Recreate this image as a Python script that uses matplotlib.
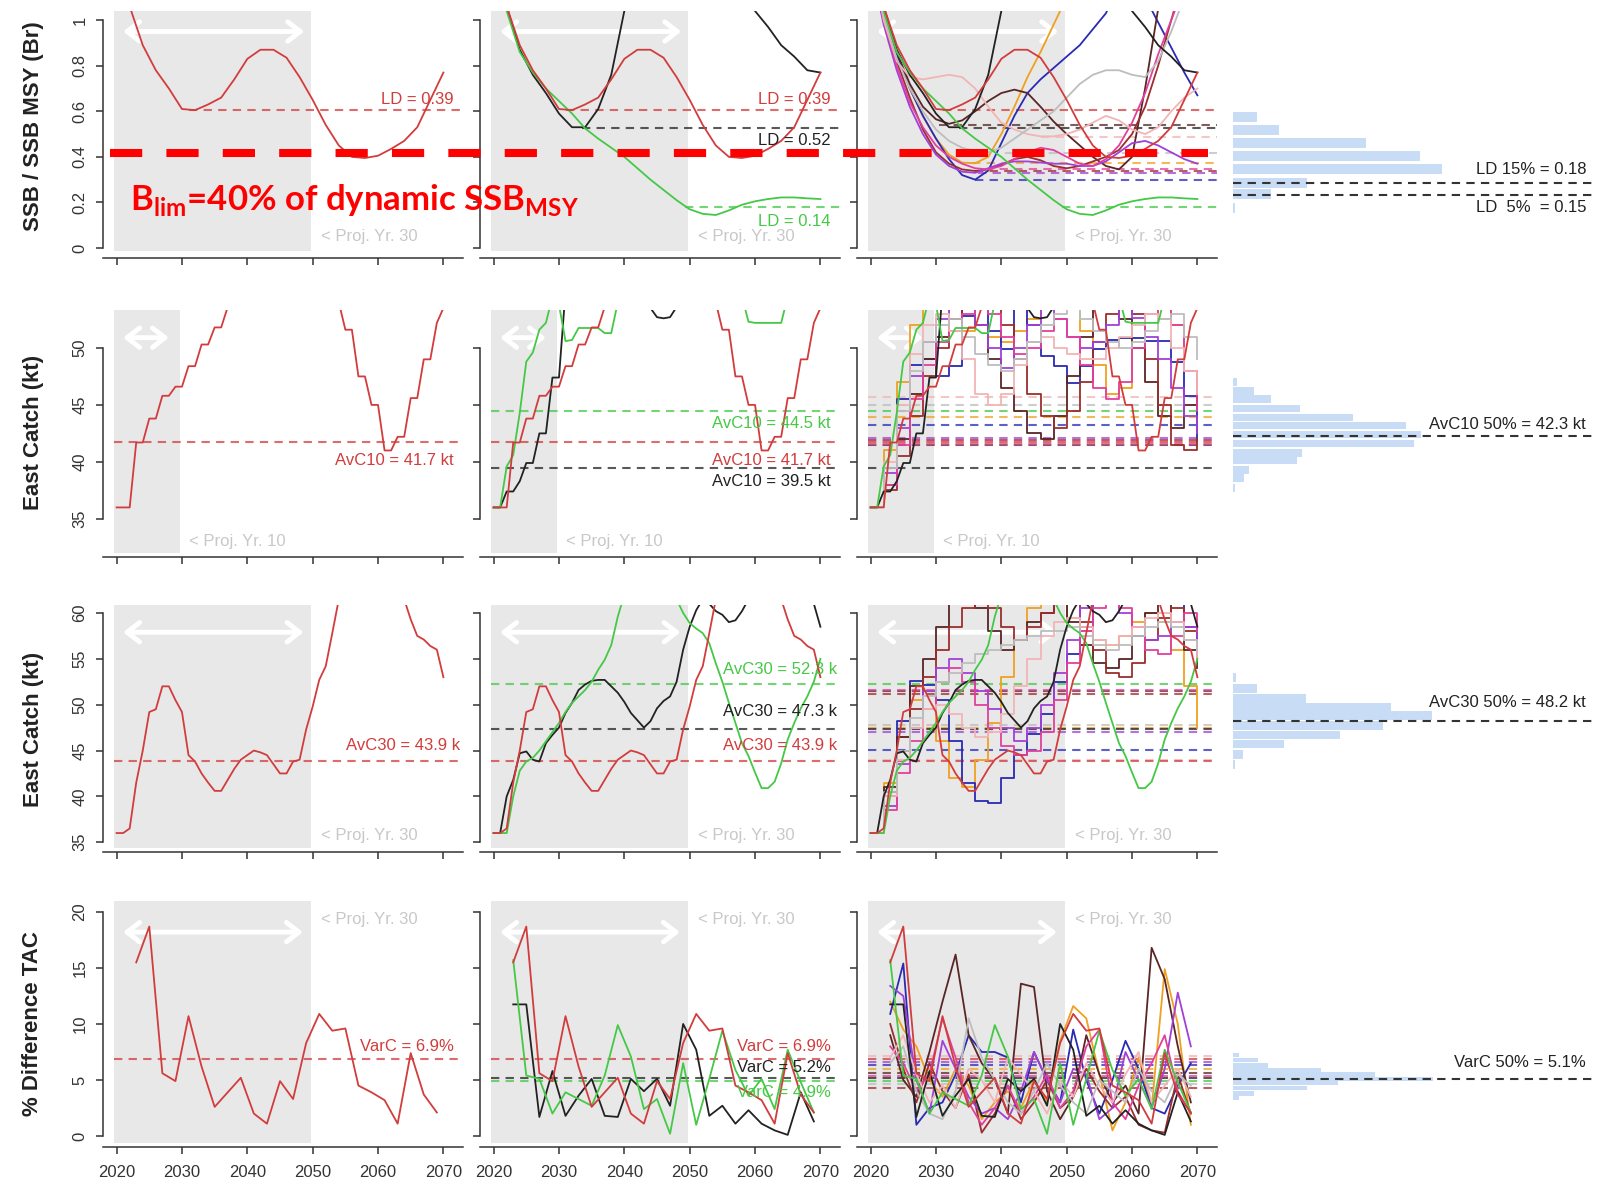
import numpy as np
import matplotlib.pyplot as plt
from matplotlib import transforms
from matplotlib.lines import Line2D

plt.rcParams['font.family'] = ['Liberation Sans', 'DejaVu Sans']
plt.rcParams['mathtext.fontset'] = 'custom'
plt.rcParams['mathtext.rm'] = 'Lato'
plt.rcParams['mathtext.bf'] = 'Lato:bold'

# ---------------- data ----------------
yr_ssb = np.arange(2020, 2071, 2)      # biennial
yr_c = np.arange(2020, 2071)           # yearly
yr_var = np.arange(2023, 2070, 2)      # TAC change years

# MPs: red, black, green (shown in the first two columns), then the rest
mp_colors = ['#d23c3c', '#222222', '#45c845', '#f0a020', '#2a2ab4', '#5a2525',
             '#9b2d2d', '#a040d8', '#e0409c', '#f2b4b4', '#bdbdbd']

# SSB / SSBMSY
ssb_red = [1.25, 1.06, 0.89, 0.78, 0.70, 0.61, 0.605, 0.63, 0.66, 0.74, 0.83, 0.87, 0.87,
           0.835, 0.75, 0.65, 0.54, 0.45, 0.40, 0.395, 0.405, 0.435, 0.47, 0.53, 0.65, 0.77]
ssb_black = [1.35, 1.06, 0.87, 0.76, 0.68, 0.59, 0.53, 0.53, 0.61, 0.76, 1.04, 1.3, 1.5,
             1.6, 1.6, 1.55, 1.45, 1.35, 1.25, 1.15, 1.04, 0.97, 0.89, 0.84, 0.78, 0.77]
ssb_green = [1.3, 1.04, 0.86, 0.77, 0.70, 0.645, 0.59, 0.525, 0.48, 0.44, 0.40, 0.35, 0.30,
             0.255, 0.21, 0.17, 0.15, 0.145, 0.165, 0.19, 0.205, 0.215, 0.222, 0.222, 0.218, 0.215]
ssb_orange = [1.3, 1.05, 0.85, 0.70, 0.58, 0.48, 0.41, 0.375, 0.372, 0.40, 0.50, 0.62, 0.75,
              0.86, 0.98, 1.1, 1.25, 1.35, 1.45, 1.5, 1.5, 1.5, 1.5, 1.5, 1.5, 1.5]
ssb_blue = [1.25, 1.0, 0.85, 0.70, 0.58, 0.48, 0.39, 0.32, 0.30, 0.34, 0.46, 0.58, 0.68,
            0.74, 0.79, 0.84, 0.89, 0.96, 1.03, 1.15, 1.2, 1.1, 0.99, 0.88, 0.77, 0.67]
ssb_darkbrown = [1.3, 1.05, 0.86, 0.72, 0.62, 0.565, 0.545, 0.56, 0.60, 0.645, 0.68, 0.695, 0.68,
                 0.62, 0.555, 0.50, 0.45, 0.40, 0.36, 0.345, 0.40, 0.70, 1.05, 1.3, 1.5, 1.6]
ssb_maroon = [1.3, 1.02, 0.82, 0.66, 0.52, 0.42, 0.37, 0.345, 0.338, 0.345, 0.365, 0.39, 0.40,
              0.385, 0.36, 0.35, 0.36, 0.38, 0.40, 0.43, 0.50, 0.62, 0.80, 1.0, 1.2, 1.4]
ssb_purple = [1.25, 0.98, 0.78, 0.62, 0.50, 0.41, 0.36, 0.335, 0.33, 0.35, 0.37, 0.38, 0.38,
              0.375, 0.37, 0.37, 0.36, 0.36, 0.38, 0.42, 0.46, 0.47, 0.45, 0.42, 0.39, 0.37]
ssb_magenta = [1.28, 1.0, 0.80, 0.64, 0.53, 0.45, 0.40, 0.37, 0.35, 0.345, 0.36, 0.39, 0.42,
               0.44, 0.43, 0.40, 0.37, 0.36, 0.39, 0.45, 0.55, 0.68, 0.85, 1.0, 1.15, 1.3]
ssb_lightpink = [1.3, 1.0, 0.82, 0.75, 0.74, 0.75, 0.76, 0.75, 0.70, 0.62, 0.55, 0.52, 0.50,
                 0.49, 0.49, 0.50, 0.52, 0.55, 0.58, 0.56, 0.52, 0.50, 0.53, 0.60, 0.66, 0.70]
ssb_lightgray = [1.3, 1.02, 0.83, 0.70, 0.60, 0.52, 0.47, 0.44, 0.425, 0.42, 0.44, 0.48, 0.52,
                 0.56, 0.60, 0.66, 0.72, 0.76, 0.78, 0.78, 0.76, 0.75, 0.82, 0.95, 1.1, 1.25]

# lowest depletion in window (dashed) and year it occurs
ld_val = [0.605, 0.525, 0.178, 0.372, 0.298, 0.542, 0.338, 0.33, 0.345, 0.487, 0.418]
ld_start = [2031, 2033.5, 2049.3, 2035.5, 2036, 2030.5, 2036, 2036.5, 2037.5, 2046, 2040.5]
ld_label = [0.39, 0.52, 0.14]

# East catch, tuned to AvC10 (red/black/green yearly, others biennial)
c10_red = [36, 36, 36, 41.7, 41.7, 43.8, 43.8, 45.8, 45.8, 46.6,
           46.6, 48.4, 48.4, 50.3, 50.3, 51.8, 51.8, 53.6, 53.6, 55,
           55, 56.5, 56.5, 57.5, 57.5, 58, 58, 57.5, 57.5, 56.5,
           56.5, 55.5, 55.5, 54, 54, 51.6, 51.6, 47.5, 47.5, 45,
           45, 41, 41, 42.2, 42.2, 45.6, 45.6, 49, 49, 52.2, 53.5]
c10_black = [36, 36, 37.4, 37.4, 38.3, 39.9, 39.9, 42.5, 42.5, 47.4,
             47.4, 55, 57, 58, 58.5, 58.5, 58, 57, 56, 55,
             54.5, 54.2, 54, 53.8, 53.5, 52.7, 52.6, 52.7, 53.6, 55,
             56, 57, 57.5, 58, 58, 58, 58, 58, 58, 58,
             58, 58, 58, 58, 58, 58, 58, 58, 58, 58, 58]
c10_green = [36, 36, 39.6, 40.6, 44.3, 48.8, 49.6, 51.6, 52.2, 54.5,
             53.8, 50.6, 50.7, 51.75, 51.75, 51.75, 51.75, 51.3, 51.3, 54,
             55.5, 56.5, 57, 57.5, 57.5, 57.5, 57.5, 57, 57, 56.5,
             56, 55.5, 55.5, 55, 55, 55, 54.5, 54.5, 54.5, 52.3,
             52.2, 52.2, 52.2, 52.2, 52.2, 54.5, 55.5, 56, 56.5, 57, 57]
c10_orange = [36, 41, 47, 52, 54, 54, 52.5, 51.5, 52, 51, 50.5, 51.5, 52.5,
              53.5, 54, 54, 51.5, 48.5, 46, 46.5, 50, 53, 54, 52, 48, 45]
c10_blue = [36, 39.5, 45.5, 48.5, 49, 47.5, 48.4, 52.8, 54, 51.5, 49.9, 54, 52,
            49.3, 48.4, 46.9, 48.4, 49.9, 50.7, 50.9, 50.9, 50.6, 50.6, 48.8, 45.8, 41.8]
c10_darkbrown = [36, 38, 42, 46, 49, 51, 52.5, 53.5, 52, 49, 46.5, 44.5, 42.5,
                 42, 44, 47.5, 51, 53.5, 54, 52.5, 50, 47, 44, 43, 45, 47]
c10_maroon = [36, 37.5, 40.5, 44, 47.5, 50, 52.5, 54, 54.5, 54, 52, 49, 46,
              44, 43, 44.5, 47, 50.5, 53, 54, 53, 49, 45, 41.5, 41, 42]
c10_purple = [36, 39, 43, 47.5, 50.5, 52.5, 54, 54, 52, 50, 48.2, 50, 52,
              53.5, 52.5, 51, 50, 50.5, 52, 53.5, 52.6, 51, 49, 46.5, 44, 42.5]
c10_magenta = [36, 38, 41.5, 45.5, 48.5, 50.5, 51.5, 53, 54, 53, 51, 49.5, 50,
               51.5, 52.5, 51, 48.5, 46.5, 45.5, 47, 50, 53, 54, 52, 48, 44.5]
c10_lightpink = [36, 40, 45, 49.5, 52, 53, 51.5, 49, 46, 45, 46, 48.5, 50.5,
                 51, 50, 49.5, 49, 49, 50, 51, 52, 53, 52.5, 50, 48, 46]
c10_lightgray = [36, 39.5, 44.5, 48, 50.5, 52, 52.5, 51, 49.5, 48.5, 48, 49, 50.5,
                 52, 53, 53.5, 52.5, 51.5, 50.5, 50, 50.5, 51.5, 52.5, 53, 51, 49]
avc10 = [41.7, 39.5, 44.5, 43.9, 43.2, 41.5, 41.9, 42.1, 41.6, 45.7, 45.0]

# East catch, tuned to AvC30
c30_red = [36, 36, 36.5, 41.5, 45, 49.2, 49.5, 52, 52, 50.5,
           49.2, 44.5, 43.8, 42.5, 41.5, 40.6, 40.6, 41.8, 43, 44,
           44.5, 45, 44.8, 44.5, 43.5, 42.5, 42.5, 43.8, 44, 47.3,
           49.8, 52.7, 54.2, 57.8, 61.5, 63, 64, 64, 64, 64,
           64, 64, 63, 62, 61.5, 59.3, 57.5, 57.1, 56.4, 56, 53]
c30_black = [36, 36, 40, 41.8, 44.7, 44.9, 44, 43.8, 45.8, 46.7,
             47.5, 49.1, 50.2, 51.6, 52.2, 52.6, 52.7, 52.7, 52, 51.3,
             50.3, 49.1, 48.3, 47.5, 48.2, 49.6, 50.4, 50.9, 52.5, 56,
             58.5, 60.3, 61.5, 61, 60.2, 59.8, 59, 59.2, 60.2, 61.5,
             62, 62, 62, 62, 62, 62, 62, 62, 62, 61, 58.5]
c30_green = [36, 36, 36, 40, 42.8, 43.8, 44.2, 45, 46, 47,
             48, 49.2, 50.2, 50.9, 51.6, 52.5, 53.8, 54.9, 56.5, 59.6,
             62, 63, 63, 63, 63, 63, 63, 63, 61.5, 60,
             58.9, 58.3, 57.8, 56.7, 54.5, 52.5, 50.2, 48, 45.8, 44.4,
             42.6, 40.9, 40.9, 41.6, 43.6, 46.2, 48, 49.6, 50.9, 52.5, 55]
c30_orange = [36, 41.5, 46.5, 50.5, 51.5, 46, 42, 41, 44, 48, 53, 57, 60.5,
              62, 61, 59.5, 58, 57, 56.5, 57.5, 59, 60, 59, 56, 52, 47.5]
c30_blue = [36, 40.5, 48.2, 52.6, 52.1, 50.5, 46, 41.5, 39.5, 39.3, 42, 44.5, 46.8,
            49, 52.5, 55.5, 58.5, 61.5, 63, 63, 63, 63, 63, 61.5, 58.5, 55]
c30_darkbrown = [36, 41, 46.5, 52, 55, 58.5, 61, 61.5, 60.5, 58, 56, 57, 59,
                 60, 61, 59, 56.5, 54.5, 54, 55, 57.5, 60, 61, 59, 56, 54]
c30_maroon = [36, 40, 45, 49.5, 53, 56, 58.5, 60.5, 61.5, 60.5, 58.5, 57, 58.5,
              60, 61.5, 61, 59, 56, 53.5, 53, 54.5, 57, 59.5, 60.5, 58, 55]
c30_purple = [36, 39, 43.5, 47.5, 51.5, 54, 55, 53.5, 51.5, 49.5, 47.5, 46, 47.5,
              50, 53.5, 57, 60.5, 61.5, 61, 60, 58.5, 57, 57.5, 59, 58.5, 55.5]
c30_magenta = [36, 38.5, 42.5, 46, 49.5, 52.5, 54, 52.5, 50, 47.5, 45.5, 44.5, 45,
               47, 50.5, 54.5, 58, 60.5, 61.5, 60.5, 58.5, 56, 55.5, 57.5, 60, 58]
c30_lightpink = [36, 40, 44, 47.5, 49.5, 50, 49, 47.5, 46.5, 47, 49, 52, 55,
                 57.5, 59, 59.5, 58.5, 57, 56.5, 57.5, 58.5, 59.5, 60, 59, 57, 55]
c30_lightgray = [36, 40.5, 45, 48.5, 51, 52.5, 53.5, 54.5, 55.5, 56, 56.5, 57, 57.5,
                 58, 58, 58.5, 57.5, 56.5, 56, 56.5, 57.5, 58.5, 59, 58.5, 57, 56]
avc30 = [43.9, 47.3, 52.3, 47.5, 45.1, 51.5, 51.2, 47.0, 51.6, 44.0, 47.8]

# % difference in TAC
var_red = [15.5, 18.7, 5.6, 4.9, 10.7, 6.2, 2.6, 3.9, 5.2, 2.0, 1.1, 4.9,
           3.3, 8.3, 10.9, 9.4, 9.6, 4.5, 3.9, 3.2, 1.1, 7.4, 3.7, 2.1]
var_black = [11.75, 11.75, 1.7, 5.8, 1.8, 3.6, 5.1, 1.8, 1.7, 5.1, 4.0, 5.1,
             2.7, 10.0, 7.7, 1.8, 2.7, 1.1, 2.3, 1.1, 0.5, 0.1, 3.9, 1.3]
var_green = [15.7, 5.4, 5.1, 2.0, 3.9, 3.3, 2.7, 5.4, 9.9, 7.1, 2.4, 3.3,
             0.2, 6.5, 1.0, 5.1, 9.4, 5.9, 3.6, 5.1, 2.4, 7.7, 4.8, 2.1]
var_orange = [12.0, 9.5, 8.0, 5.0, 3.5, 6.0, 4.5, 1.5, 3.0, 4.0, 2.5, 5.0,
              3.0, 8.5, 11.6, 10.5, 5.5, 0.5, 3.0, 7.0, 2.5, 14.9, 10.0, 1.0]
var_blue = [10.9, 15.4, 1.0, 2.5, 3.0, 5.5, 9.0, 7.5, 7.5, 7.0, 3.0, 7.5,
            5.0, 3.0, 9.5, 5.0, 2.0, 5.0, 8.5, 6.0, 2.5, 2.0, 4.5, 6.5]
var_darkbrown = [9.0, 5.0, 3.5, 7.5, 12.0, 16.2, 9.0, 6.5, 5.0, 2.0, 13.6, 13.3,
                 4.0, 1.5, 3.5, 9.0, 5.5, 3.0, 4.5, 2.0, 16.8, 14.0, 8.0, 3.0]
var_maroon = [10.0, 6.0, 3.0, 6.5, 4.0, 2.5, 5.5, 0.3, 2.0, 4.5, 1.5, 3.0,
              5.0, 2.5, 3.5, 6.0, 4.0, 2.5, 3.5, 1.0, 0.5, 0.3, 5.5, 2.0]
var_purple = [13.4, 12.5, 5.0, 2.0, 8.5, 6.0, 3.5, 2.0, 2.5, 1.5, 4.0, 7.5,
              5.0, 3.0, 6.0, 5.5, 1.5, 2.5, 7.5, 5.0, 2.5, 6.0, 12.8, 8.0]
var_magenta = [8.0, 6.5, 4.0, 5.5, 10.5, 7.0, 3.0, 1.0, 2.5, 4.5, 2.0, 3.5,
               5.5, 2.5, 4.0, 8.0, 9.5, 3.0, 1.5, 4.5, 6.5, 9.0, 4.0, 2.0]
var_lightpink = [7.0, 9.0, 5.5, 3.0, 4.5, 2.5, 6.0, 5.0, 3.0, 7.0, 5.5, 4.0,
                 2.0, 5.0, 3.5, 6.5, 4.5, 3.0, 5.5, 7.5, 3.0, 4.5, 6.0, 3.5]
var_lightgray = [6.5, 8.0, 4.0, 2.0, 1.5, 4.0, 10.5, 7.0, 5.0, 3.0, 2.0, 4.0,
                 6.5, 4.5, 3.0, 2.0, 5.0, 4.0, 3.0, 6.0, 4.0, 3.0, 5.5, 4.5]
varc = [6.9, 5.2, 4.9, 6.0, 6.3, 5.6, 4.3, 6.6, 5.4, 7.1, 4.6]

# histograms across all MPs (right column)
h0_centers = [0.345, 0.3125, 0.28, 0.2475, 0.215, 0.18, 0.1525, 0.1175]
h0_counts = [24, 46, 133, 187, 209, 74, 38, 2]
h1_centers = [47.0, 46.2, 45.5, 44.7, 43.9, 43.2, 42.4, 41.6, 40.8, 40.1, 39.3, 38.6, 37.7]
h1_counts = [4, 21, 38, 67, 120, 173, 188, 181, 69, 64, 16, 11, 2]
h2_centers = [53.0, 51.8, 50.7, 49.7, 48.8, 47.7, 46.7, 45.7, 44.6, 43.5]
h2_counts = [3, 24, 73, 158, 199, 150, 107, 51, 10, 2]
h3_centers = [7.2, 6.8, 6.3, 5.9, 5.5, 5.1, 4.7, 4.3, 3.8, 3.4]
h3_counts = [6, 25, 35, 88, 142, 200, 105, 74, 21, 6]
ld15, ld5 = 0.18, 0.15
avc10_med, avc30_med, varc_med = 42.3, 48.2, 5.1
blim = 0.415

ssb_all = [ssb_red, ssb_black, ssb_green, ssb_orange, ssb_blue, ssb_darkbrown,
           ssb_maroon, ssb_purple, ssb_magenta, ssb_lightpink, ssb_lightgray]
c10_all = [c10_red, c10_black, c10_green, c10_orange, c10_blue, c10_darkbrown,
           c10_maroon, c10_purple, c10_magenta, c10_lightpink, c10_lightgray]
c30_all = [c30_red, c30_black, c30_green, c30_orange, c30_blue, c30_darkbrown,
           c30_maroon, c30_purple, c30_magenta, c30_lightpink, c30_lightgray]
var_all = [var_red, var_black, var_green, var_orange, var_blue, var_darkbrown,
           var_maroon, var_purple, var_magenta, var_lightpink, var_lightgray]

# ---------------- layout ----------------
W, H = 1601, 1188
fig = plt.figure(figsize=(W / 100, H / 100), dpi=100)


def px_axes(left, top, width, height):
    return fig.add_axes([left / W, 1 - (top + height) / H, width / W, height / H])


col_left = [114, 491, 868]
col_w = 349
rows = [(11, 251), (310, 553), (605, 848), (901, 1143)]
ylims = [(-0.013, 1.04), (32.0, 53.33), (34.37, 60.87), (-0.625, 20.98)]
yticks = [[0, 0.2, 0.4, 0.6, 0.8, 1], [35, 40, 45, 50], [35, 40, 45, 50, 55, 60], [0, 5, 10, 15, 20]]
ytlab = [['0', '0.2', '0.4', '0.6', '0.8', '1'], ['35', '40', '45', '50'],
         ['35', '40', '45', '50', '55', '60'], ['0', '5', '10', '15', '20']]
gray_end = [2049.7, 2029.7, 2049.7, 2049.7]
arrow_y = [0.95, 50.9, 57.9, 18.2]
arrow_x1 = [2048.7, 2028.0, 2048.6, 2048.5]
proj_txt = ['< Proj. Yr. 30', '< Proj. Yr. 10', '< Proj. Yr. 30', '< Proj. Yr. 30']
proj_pos = [(2051.3, 0.05), (2031.1, 33.0), (2051.2, 35.7), (2051.3, 19.3)]
bottom_off = [5, 3, 3, 3]
ylabels = ['SSB / SSB MSY (Br)', 'East Catch (kt)', 'East Catch (kt)', '% Difference TAC']
ylabel_y = [126, 432, 729, 1024]

lab_fmt = ['LD = {:.2f}', 'AvC10 = {:.1f} kt', 'AvC30 = {:.1f} k', 'VarC = {:.1f}%']
lab_vals = [ld_label, avc10[:3], avc30[:3], varc[:3]]
lab_y = [[0.65, 0.47, 0.115], [40.1, 38.3, 43.4], [45.5, 49.3, 53.8], [8.0, 6.1, 3.9]]
lab_x = [2071.6, 2071.6, 2072.6, 2071.6]

col_mps = [[0], [1, 2, 0], [3, 4, 5, 6, 7, 8, 9, 10, 1, 2, 0]]
dash = (0, (4, 3))
axc = '#333333'

axes_grid = []
for r in range(4):
    top, bot = rows[r]
    row_axes = []
    for c in range(3):
        ax = px_axes(col_left[c], top, col_w, bot - top)
        ax.set_xlim(2019.6, 2073.0)
        ax.set_ylim(*ylims[r])
        ax.axvspan(2019.6, gray_end[r], color='#e8e8e8', lw=0, zorder=0)
        ax.annotate('', xy=(arrow_x1[r], arrow_y[r]), xytext=(2021.0, arrow_y[r]),
                    arrowprops=dict(arrowstyle='<->,head_length=0.45,head_width=0.35',
                                    color='white', lw=3.5, mutation_scale=20,
                                    shrinkA=0, shrinkB=0), zorder=1)
        ax.text(proj_pos[r][0], proj_pos[r][1], proj_txt[r], color='#c8c8c8',
                fontsize=12, va='center', zorder=1)

        for i in col_mps[c]:
            col = mp_colors[i]
            if r == 0:
                ax.plot(yr_ssb, ssb_all[i], color=col, lw=1.3, zorder=3)
                ax.hlines(ld_val[i], ld_start[i], 2073.0, colors=col, lw=1.5,
                          linestyles=dash, alpha=0.75, zorder=2)
            else:
                series = [None, c10_all, c30_all, var_all][r][i]
                metric = [None, avc10, avc30, varc][r][i]
                if r == 3:
                    ax.plot(yr_var, series, color=col, lw=1.3, zorder=3)
                elif len(series) == len(yr_c):
                    ax.plot(yr_c, series, color=col, lw=1.3, zorder=3)
                else:
                    ax.plot(yr_ssb, series, color=col, lw=1.3, zorder=3,
                            drawstyle='steps-post')
                ax.axhline(metric, color=col, lw=1.5, ls=dash, alpha=0.75, zorder=2)

        # value labels in the first two columns
        if c < 2:
            for k in ([0] if c == 0 else [0, 1, 2]):
                ax.text(lab_x[r], lab_y[r][k], lab_fmt[r].format(lab_vals[r][k]),
                        color=mp_colors[k], fontsize=12, ha='right', va='center', zorder=4)

        # R-like detached axes
        for s in ['top', 'right']:
            ax.spines[s].set_visible(False)
        for s in ['left', 'bottom']:
            ax.spines[s].set_color(axc)
            ax.spines[s].set_linewidth(1.1)
        ax.spines['left'].set_position(('outward', 8))
        ax.spines['bottom'].set_position(('outward', bottom_off[r]))
        ax.spines['left'].set_bounds(yticks[r][0], yticks[r][-1])
        ax.spines['bottom'].set_bounds(2017.9, 2073.0)
        ax.set_xticks(range(2020, 2071, 10))
        ax.set_yticks(yticks[r])
        ax.tick_params(direction='out', length=5, width=1.1, colors=axc, labelsize=12)
        ax.tick_params(axis='x', pad=8, labelbottom=(r == 3))
        if c == 0:
            ax.set_yticklabels(ytlab[r], rotation=90, va='center')
            ax.tick_params(axis='y', pad=6)
        else:
            ax.tick_params(axis='y', labelleft=False)
        row_axes.append(ax)
    axes_grid.append(row_axes)
    fig.text(33 / W, 1 - ylabel_y[r] / H, ylabels[r], rotation=90, fontsize=16,
             fontweight='bold', color='#222222', ha='center', va='center')

# ---------------- histograms ----------------
hist_c = [h0_centers, h1_centers, h2_centers, h3_centers]
hist_n = [h0_counts, h1_counts, h2_counts, h3_counts]
hist_h = [0.025, 0.66, 0.95, 0.38]
hist_ylim = [(0.01, 0.61), ylims[1], ylims[2], ylims[3]]
hist_lines = [[ld15, ld5], [avc10_med], [avc30_med], [varc_med]]
hist_txt = [['LD 15% = 0.18', 'LD  5%  = 0.15'], ['AvC10 50% = 42.3 kt'],
            ['AvC30 50% = 48.2 kt'], ['VarC 50% = 5.1%']]
hist_txt_y = [[0.2125, 0.1175], [43.25], [50.2], [6.55]]
for r in range(4):
    top, bot = rows[r]
    hx = px_axes(1233, top, 362, bot - top)
    hx.barh(hist_c[r], hist_n[r], height=hist_h[r], color='#c8dcf5', lw=0)
    hx.set_xlim(0, 362)
    hx.set_ylim(*hist_ylim[r])
    for v in hist_lines[r]:
        hx.axhline(v, color='#333333', lw=1.5, ls=dash)
    for t, ty in zip(hist_txt[r], hist_txt_y[r]):
        hx.text(353, ty, t, fontsize=12, color='#222222', ha='right', va='center')
    hx.axis('off')

# ---------------- Blim annotation ----------------
trans = transforms.blended_transform_factory(fig.transFigure, axes_grid[0][0].transData)
fig.add_artist(Line2D([110 / W, 1208 / W], [blim, blim], transform=trans, color='red',
                      lw=5.8, ls=dash, dash_capstyle='butt'))
fig.text(130 / W, 1 - 210 / H, r'B$_{\mathbf{lim}}$=40% of dynamic SSB$_{\mathbf{MSY}}$',
         color='red', fontsize=25, fontweight='bold', family='Lato', va='baseline')

fig.savefig('out.png', dpi=100)
